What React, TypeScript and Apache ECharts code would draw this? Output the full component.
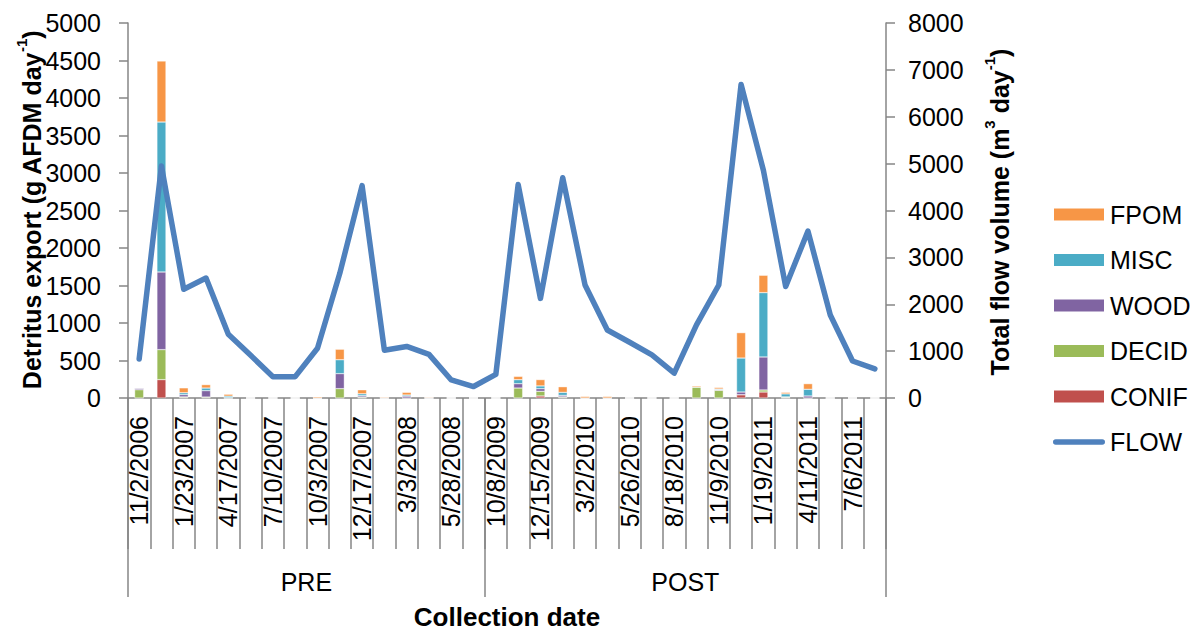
import React, { useEffect, useRef } from "react";
import * as echarts from "echarts";

const categories = [
  "11/2/2006", "", "1/23/2007", "", "4/17/2007", "", "7/10/2007", "", "10/3/2007", "",
  "12/17/2007", "", "3/3/2008", "", "5/28/2008", "",
  "10/8/2009", "", "12/15/2009", "", "3/2/2010", "", "5/26/2010", "", "8/18/2010", "",
  "11/9/2010", "", "1/19/2011", "", "4/11/2011", "", "7/6/2011", "",
];

const groupNames = ["PRE", "POST"];
const groupCounts = [16, 18];

const CONIF = [0, 245, 5, 3, 0, 0, 0, 0, 0, 0, 3, 0, 0, 0, 0, 0, 0, 0, 27, 5, 0, 0, 0, 0, 0, 0, 0, 44, 80, 0, 0, 0, 0, 0];
const DECID = [110, 400, 10, 10, 0, 0, 0, 0, 0, 125, 10, 0, 0, 0, 0, 0, 0, 133, 62, 10, 0, 0, 0, 0, 0, 147, 102, 0, 27, 10, 0, 0, 0, 0];
const WOOD = [20, 1035, 30, 85, 5, 0, 0, 0, 0, 200, 18, 0, 25, 0, 0, 0, 0, 58, 36, 20, 0, 0, 0, 0, 0, 0, 8, 36, 440, 5, 27, 0, 0, 0];
const MISC = [5, 2000, 25, 35, 20, 0, 0, 0, 0, 185, 25, 0, 15, 0, 0, 0, 0, 53, 36, 40, 0, 0, 0, 0, 0, 0, 10, 453, 858, 40, 89, 0, 0, 0];
const FPOM = [5, 813, 65, 45, 25, 0, 0, 0, 15, 140, 53, 10, 35, 8, 0, 0, 0, 44, 84, 75, 20, 20, 0, 0, 0, 15, 20, 338, 231, 20, 75, 0, 0, 0];
const FLOW = [830, 4950, 2320, 2560, 1360, 910, 455, 455, 1060, 2660, 4530, 1020, 1100, 930, 385, 245,
  505, 4555, 2125, 4700, 2410, 1450, 1190, 920, 530, 1560, 2410, 6690, 4860, 2380, 3560, 1770, 790, 620];

const leftTicks = { min: 0, max: 5000, interval: 500 };
const rightTicks = { min: 0, max: 8000, interval: 1000 };

const FONT = "'Liberation Sans', Arial, Helvetica, sans-serif";
const AXIS_GRAY = "#868686";

export default function App() {
  const ref = useRef<HTMLDivElement>(null);
  useEffect(() => {
    if (!ref.current) return;
    const chart = echarts.init(ref.current, null, { renderer: "svg" });

    const total = groupCounts.reduce((a, b) => a + b, 0);
    const bounds: number[] = [0];
    const mids: number[] = [];
    let acc = 0;
    groupCounts.forEach((c) => {
      mids.push(acc + c / 2);
      acc += c;
      bounds.push(acc);
    });

    const barSeries = [
      { name: "CONIF", data: CONIF, color: "#C0504D" },
      { name: "DECID", data: DECID, color: "#9BBB59" },
      { name: "WOOD", data: WOOD, color: "#8064A2" },
      { name: "MISC", data: MISC, color: "#4BACC6" },
      { name: "FPOM", data: FPOM, color: "#F79646" },
    ].map((s) => ({
      name: s.name,
      type: "bar",
      stack: "detritus",
      data: s.data,
      barWidth: 9,
      xAxisIndex: 0,
      yAxisIndex: 0,
      itemStyle: { color: s.color, borderColor: "#ffffff", borderWidth: 0.4 },
    }));

    const plain = (v: number) => String(v);

    const option: any = {
      animation: false,
      textStyle: { fontFamily: FONT },
      grid: { left: 128, right: 315, top: 23, bottom: 233, containLabel: false },
      legend: {
        orient: "vertical",
        left: 1052,
        top: 202,
        padding: 0,
        itemWidth: 52,
        itemHeight: 14,
        itemGap: 20.5,
        data: [
          { name: "FPOM", icon: "rect" },
          { name: "MISC", icon: "rect" },
          { name: "WOOD", icon: "rect" },
          { name: "DECID", icon: "rect" },
          { name: "CONIF", icon: "rect" },
          { name: "FLOW", icon: "path://M3,0 L49,0 A2.75,2.75 0 0 1 49,5.5 L3,5.5 A2.75,2.75 0 0 1 3,0 Z" },
        ],
        textStyle: { fontSize: 25, color: "#000", fontFamily: FONT },
      },
      xAxis: [
        {
          type: "category",
          data: categories,
          position: "bottom",
          boundaryGap: true,
          axisLine: { show: true, lineStyle: { color: AXIS_GRAY, width: 1.5 } },
          axisTick: { show: true, interval: 0, length: 151, lineStyle: { color: AXIS_GRAY, width: 1.5 } },
          axisLabel: { interval: 0, rotate: 90, margin: 18, fontSize: 25, color: "#000", fontFamily: FONT },
          splitLine: { show: false },
        },
        {
          type: "value",
          min: 0,
          max: total,
          position: "bottom",
          axisLine: { show: false },
          axisTick: { show: true, customValues: bounds, length: 199, lineStyle: { color: AXIS_GRAY, width: 1.5 } },
          axisLabel: {
            show: true,
            customValues: mids,
            margin: 171,
            fontSize: 25,
            color: "#000",
            fontFamily: FONT,
            formatter: (v: number) => {
              const i = mids.indexOf(v);
              return i >= 0 ? groupNames[i] : "";
            },
          },
          splitLine: { show: false },
        },
      ],
      yAxis: [
        {
          type: "value",
          ...leftTicks,
          position: "left",
          axisLine: { show: true, lineStyle: { color: AXIS_GRAY, width: 1.5 } },
          axisTick: { show: true, length: 9, lineStyle: { color: AXIS_GRAY, width: 1.5 } },
          axisLabel: { margin: 27, fontSize: 25, color: "#000", fontFamily: FONT, formatter: plain },
          splitLine: { show: false },
        },
        {
          type: "value",
          ...rightTicks,
          position: "right",
          axisLine: { show: true, lineStyle: { color: AXIS_GRAY, width: 1.5 } },
          axisTick: { show: true, length: 9, lineStyle: { color: AXIS_GRAY, width: 1.5 } },
          axisLabel: { margin: 22, fontSize: 25, color: "#000", fontFamily: FONT, formatter: plain },
          splitLine: { show: false },
        },
      ],
      series: [
        ...barSeries,
        {
          name: "FLOW",
          type: "line",
          data: FLOW,
          xAxisIndex: 0,
          yAxisIndex: 1,
          symbol: "none",
          color: "#4F81BD",
          itemStyle: { color: "#4F81BD" },
          lineStyle: { color: "#4F81BD", width: 5.5, join: "round", cap: "round" },
          z: 5,
        },
      ],
      graphic: [
        {
          type: "text",
          x: 29,
          y: 210,
          rotation: Math.PI / 2,
          style: {
            text: "{b|Detritus export (g AFDM day}{s|-1}{b|)}",
            align: "center",
            verticalAlign: "middle",
            rich: {
              b: { fontSize: 25, fontWeight: "bold", fontFamily: FONT, fill: "#000", lineHeight: 30, verticalAlign: "bottom" },
              s: { fontSize: 15, fontWeight: "bold", fontFamily: FONT, fill: "#000", lineHeight: 30, verticalAlign: "top" },
            },
          },
        },
        {
          type: "text",
          x: 997,
          y: 212,
          rotation: Math.PI / 2,
          style: {
            text: "{b|Total flow volume (m}{s|3}{b| day}{s|-1}{b|)}",
            align: "center",
            verticalAlign: "middle",
            rich: {
              b: { fontSize: 25, fontWeight: "bold", fontFamily: FONT, fill: "#000", lineHeight: 30, verticalAlign: "bottom" },
              s: { fontSize: 15, fontWeight: "bold", fontFamily: FONT, fill: "#000", lineHeight: 30, verticalAlign: "top" },
            },
          },
        },
        {
          type: "text",
          x: 507,
          y: 617,
          style: {
            text: "Collection date",
            align: "center",
            verticalAlign: "middle",
            fontSize: 26,
            fontWeight: "bold",
            fontFamily: FONT,
            fill: "#000",
          },
        },
      ],
    };
    chart.setOption(option);
    return () => chart.dispose();
  }, []);
  return (
    <div
      ref={ref}
      style={{ position: "fixed", left: 0, top: 0, width: 1201, height: 631, background: "#fff" }}
    />
  );
}
